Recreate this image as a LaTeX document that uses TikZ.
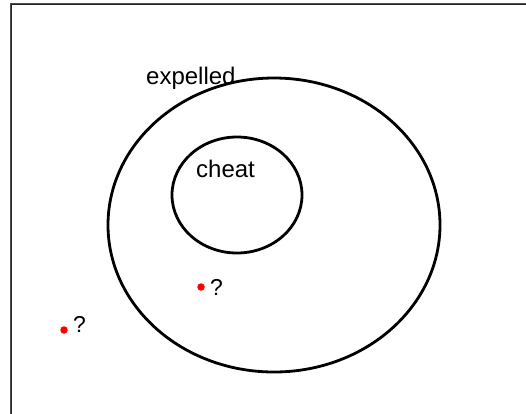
\documentclass[tikz,border=0pt]{standalone}
\usepackage{fontspec}
\setmainfont{Liberation Sans}
\usetikzlibrary{shapes.geometric}
\begin{document}
\begin{tikzpicture}[x=1pt,y=-1pt,
  setline/.style={line width=2.8pt,black},
  lbl/.style={inner sep=0pt,anchor=base west,font=\fontsize{24}{27}\selectfont},
  qlbl/.style={inner sep=0pt,anchor=base west,font=\fontsize{23}{25}\selectfont},
  reddot/.style={circle,fill=red,inner sep=0pt,minimum size=7.5pt}]
\useasboundingbox (0,0) rectangle (526,413);
\fill[white] (0,0) rectangle (526,413);
\coordinate (fbl) at (11,414);
\coordinate (ftl) at (11,4);
\coordinate (ftr) at (527,4);
\draw[line width=2.2pt,black!70] (fbl) -- (ftl) -- (ftr);
\draw[line width=0.8pt,black!85] (fbl) -- (ftl) -- (ftr);
\node[ellipse,draw,setline,minimum width=332pt,minimum height=294pt,inner sep=0pt] (expelled) at (274,225) {};
\node[draw,setline,ellipse,minimum width=130pt,minimum height=116pt,inner sep=0pt] (cheat) at (237,195) {};
\node[lbl] (tex) at (146,84) {expelled};
\node[lbl] (tch) at (196,177) {cheat};
\node[reddot] (d1) at (201,287) {};
\node[qlbl] (q1) at (210,295) {?};
\node[reddot] (d2) at (64,330) {};
\node[qlbl] (q2) at (73,332) {?};
\end{tikzpicture}
\end{document}
